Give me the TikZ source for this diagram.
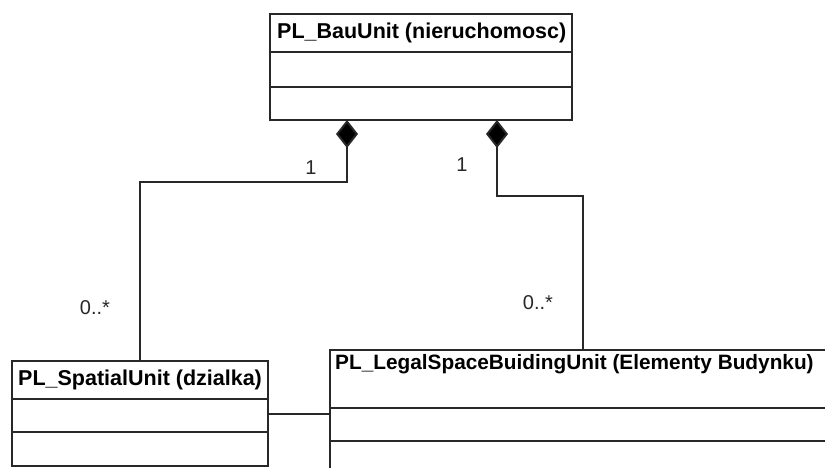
\documentclass[tikz,border=0pt]{standalone}
\usepackage{fontspec}
\setmainfont{Liberation Sans}
\usepackage{tikz}
\usetikzlibrary{arrows.meta,positioning,calc}
\definecolor{umlgray}{RGB}{40,40,40}
\tikzset{
  umlbox/.style={draw=umlgray, line width=2.2pt, fill=white, inner sep=0pt},
  umlline/.style={draw=umlgray, line width=2.2pt},
  umltitle/.style={anchor=west, inner sep=0pt, text=black, font=\fontsize{21.5}{25}\selectfont\bfseries},
  mult/.style={inner sep=0pt, text=umlgray, font=\fontsize{20}{23}\selectfont},
  composition/.style={draw=umlgray, line width=2pt, -{Diamond[length=28pt,width=22pt,fill=black]}}
}
\begin{document}
\begin{tikzpicture}[x=1pt,y=-1pt]
        \clip (0,0) rectangle (825,468);
        \fill[white] (0,0) rectangle (825,468);
        % classes
        \node[umlbox, minimum width=302pt, minimum height=106pt] (bau) at (421,67) {};
        \node[umlbox, minimum width=256pt, minimum height=105pt] (spatial) at (140,413.5) {};
        \node[umlbox, minimum width=520pt, minimum height=140pt] (legal) at (590,420) {};
        \foreach \yy in {52,87} {
            \draw[umlline] (bau.west |- 0,\yy) -- (bau.east |- 0,\yy);
        }
        \foreach \yy in {399,432} {
            \draw[umlline] (spatial.west |- 0,\yy) -- (spatial.east |- 0,\yy);
        }
        \foreach \yy in {408,441} {
            \draw[umlline] (legal.west |- 0,\yy) -- (legal.east |- 0,\yy);
        }
        \node[umltitle] (bauTitle) at (277,33) {PL\_BauUnit (nieruchomosc)};
        \node[umltitle] (spatialTitle) at (18,380) {PL\_SpatialUnit (dzialka)};
        \node[umltitle, font=\fontsize{20.8}{25}\selectfont\bfseries] (legalTitle) at (335,364) {PL\_LegalSpaceBuidingUnit (Elementy Budynku)};
        % compositions
        \coordinate (bauLeft) at (347,120);
        \coordinate (bauRight) at (497,120);
        \coordinate (bendLeft) at (347,182);
        \coordinate (bendRight) at (497,196);
        \coordinate (legalTop) at (583,350);
        \draw[composition] (spatial.north) |- (bendLeft) -- (bauLeft);
        \draw[composition] (legalTop) |- (bendRight) -- (bauRight);
        % association
        \draw[draw=umlgray, line width=2pt] (spatial.east) -- (spatial.east -| legal.west);
        % multiplicities
        \node[mult] (oneLeft) at (311,168) {1};
        \node[mult] (oneRight) at (462,165) {1};
        \node[mult] (manyLeft) at (95,308) {0..*};
        \node[mult] (manyRight) at (538,303) {0..*};
    \end{tikzpicture}
\end{document}
